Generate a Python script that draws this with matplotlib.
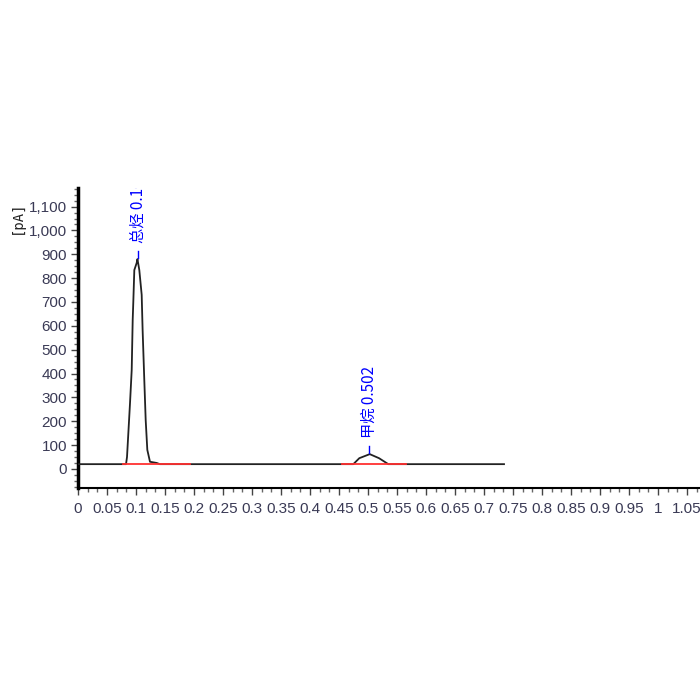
import matplotlib
matplotlib.use('Agg')
import matplotlib.pyplot as plt
from matplotlib.ticker import MultipleLocator, AutoMinorLocator, FuncFormatter

# Chromatogram trace (time in min, signal in pA)
zeit = [0.0, 0.0828, 0.0845, 0.0897, 0.0926, 0.0943, 0.0953, 0.0971, 0.1012, 0.1025,
        0.1057, 0.1098, 0.1114, 0.1143, 0.1167, 0.1195, 0.1241, 0.1357, 0.141,
        0.4747, 0.4850, 0.5030, 0.5190, 0.5350, 0.7345]
sinyal = [20, 20, 50, 277, 415, 625, 696, 834, 864, 880,
          834, 730, 583, 373, 205, 80, 30, 25, 20,
          20, 45, 62, 45, 20, 20]

# integration baselines (red)
baseline_mulai = [0.077, 0.4546]
baseline_akhir = [0.193, 0.5655]
baseline_nilai = [20, 20]

# peak annotations
puncak_nama = ['总烃 0.103', '甲烷 0.502']
puncak_waktu = [0.103, 0.502]
puncak_tinggi = [880, 62]

fig = plt.figure(figsize=(7, 7), dpi=100)
ax = fig.add_axes([78 / 700, 1 - 488 / 700, 622 / 700, 300 / 700])

ax.plot(zeit, sinyal, color='#222222', lw=1.3, zorder=3)
for a, b, v in zip(baseline_mulai, baseline_akhir, baseline_nilai):
    ax.plot([a, b], [v, v], color='#ff3030', lw=1.3, zorder=4)

for nama, t, h in zip(puncak_nama, puncak_waktu, puncak_tinggi):
    ax.plot([t, t], [h + 5, h + 35], color='blue', lw=1, zorder=5)
    ax.text(t, h + 68, nama, rotation=90, ha='center', va='bottom', color='blue',
            fontsize=11, family=['Noto Sans CJK SC', 'DejaVu Sans'], clip_on=True)

ax.set_xlim(0, 1.0724)
ax.set_ylim(-80, 1178)

ax.xaxis.set_major_locator(MultipleLocator(0.05))
ax.xaxis.set_minor_locator(AutoMinorLocator(3))
ax.xaxis.set_major_formatter(FuncFormatter(lambda v, p: '%g' % round(v, 2)))
ax.yaxis.set_major_locator(MultipleLocator(100))
ax.yaxis.set_minor_locator(AutoMinorLocator(4))
ax.yaxis.set_major_formatter(FuncFormatter(lambda v, p: '{:,.0f}'.format(v) if v >= 0 else ''))

for s in ['top', 'right']:
    ax.spines[s].set_visible(False)
ax.spines['left'].set_linewidth(2.5)
ax.spines['bottom'].set_linewidth(1.5)

ax.tick_params(axis='both', which='major', length=5, width=1, labelsize=11,
               labelcolor='#3a3a55', color='#444444')
ax.tick_params(axis='both', which='minor', length=3, width=1, color='#666666')
ax.tick_params(axis='x', which='major', pad=5)
ax.tick_params(axis='y', which='major', pad=3)
for lab in ax.get_xticklabels() + ax.get_yticklabels():
    lab.set_fontfamily('Liberation Sans')

fig.text(17 / 700, 1 - 200 / 700, '[pA]', rotation=90, ha='center', va='top',
         fontsize=10, family='DejaVu Sans Mono', color='#222222')

fig.savefig('out.png', dpi=100)
